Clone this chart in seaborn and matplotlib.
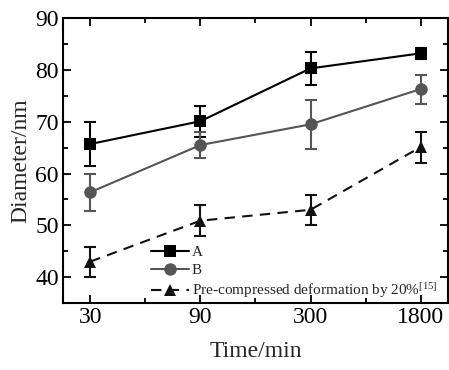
import numpy as np
import pandas as pd
import matplotlib
matplotlib.use("Agg")
import matplotlib.pyplot as plt
from matplotlib import font_manager as fm
from matplotlib.ticker import MultipleLocator, FixedLocator
from matplotlib.lines import Line2D
import seaborn as sns

times = ["30", "90", "300", "1800"]
a_vals = [65.7, 70.1, 80.3, 83.2]
a_err = [4.3, 3.0, 3.2, 1.1]
b_vals = [56.4, 65.5, 69.5, 76.3]
b_err = [3.6, 2.5, 4.7, 2.8]
c_vals = [43.0, 50.9, 53.0, 65.1]
c_err = [2.9, 3.0, 2.9, 3.0]
series_names = ["A", "B", "Pre-compressed deformation by 20%$^{[15]}$"]

for f in fm.findSystemFonts():
    if "LiberationSerif" in f.replace(" ", ""):
        try:
            fm.fontManager.addfont(f)
        except Exception:
            pass
names = {f.name for f in fm.fontManager.ttflist}
serif = next((n for n in ["Liberation Serif", "Times New Roman", "Tinos", "Nimbus Roman", "DejaVu Serif"]
              if n in names), "serif")

sns.set_theme(style="ticks")
plt.rcParams["font.family"] = [serif, "DejaVu Serif"]
plt.rcParams["mathtext.fontset"] = "custom"
plt.rcParams["mathtext.rm"] = serif
plt.rcParams["mathtext.it"] = serif + ":italic"

pos = np.arange(len(times))
df = pd.DataFrame({
    "pos": np.tile(pos, 3),
    "val": a_vals + b_vals + c_vals,
    "err": a_err + b_err + c_err,
    "series": np.repeat(series_names, len(times)),
})

fig = plt.figure(figsize=(4.49, 3.70), dpi=100)
ax = fig.add_axes([0.140, 0.181, 0.858, 0.770])

colors = {series_names[0]: "#000000", series_names[1]: "#555555", series_names[2]: "#111111"}
markers = {series_names[0]: "s", series_names[1]: "o", series_names[2]: "^"}
dashes = {series_names[0]: "", series_names[1]: "", series_names[2]: (5, 3.5)}
msize = {series_names[0]: 8, series_names[1]: 9, series_names[2]: 8}

for name in series_names:
    sub = df[df["series"] == name]
    ax.errorbar(sub["pos"], sub["val"], yerr=sub["err"], fmt="none",
                ecolor=colors[name], elinewidth=1.5, capsize=4, capthick=1.5, zorder=2)

sns.lineplot(data=df, x="pos", y="val", hue="series", style="series",
             palette=colors, markers=markers, dashes=dashes, ax=ax,
             linewidth=1.5, markeredgewidth=0, legend=False, zorder=3)
for line, name in zip(ax.get_lines()[-3:], series_names):
    line.set_markersize(msize[name])

handles = [Line2D([], [], color=colors[n], marker=markers[n], markersize=msize[n],
                  markeredgewidth=0, lw=1.5,
                  linestyle=(0, (5, 3.5)) if dashes[n] else "-") for n in series_names]
ax.legend(handles, series_names, loc="lower left", bbox_to_anchor=(0.213, -0.012),
          frameon=False, fontsize=11, handlelength=2.5, handletextpad=0.15,
          labelspacing=0.28, borderaxespad=0)

ax.set_xlim(-0.25, 3.25)
ax.set_ylim(35, 90)
ax.set_xticks(pos)
ax.set_xticklabels(times)
ax.xaxis.set_minor_locator(FixedLocator([0.5, 1.5, 2.5]))
ax.set_yticks([40, 50, 60, 70, 80, 90])
ax.yaxis.set_minor_locator(MultipleLocator(5))

ax.tick_params(which="both", direction="in", top=True, right=True, width=1.3, colors="black")
ax.tick_params(which="major", length=6, labelsize=17, pad=3)
ax.tick_params(which="minor", length=3.5)
for s in ax.spines.values():
    s.set_linewidth(1.5)
    s.set_color("black")

ax.set_xlabel("Time/min", fontsize=17, labelpad=9)
ax.set_ylabel("Diameter/nm", fontsize=17, labelpad=3)

fig.savefig("out.png", dpi=100)
